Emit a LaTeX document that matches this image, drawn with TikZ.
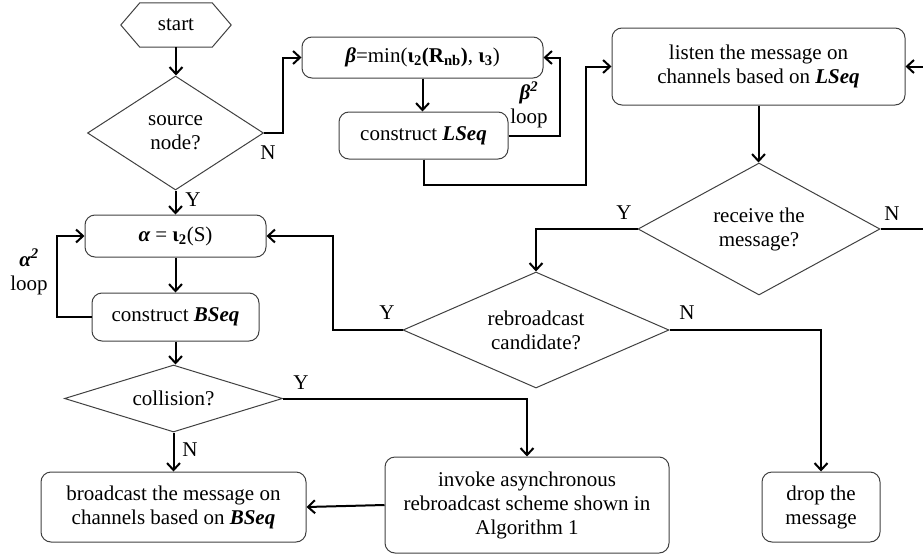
\documentclass[tikz,border=0pt]{standalone}
\usepackage{fontspec}
\setmainfont{Liberation Serif}
\usetikzlibrary{arrows.meta,shapes.geometric}
\newcommand\myfs{\fontsize{21pt}{24pt}\selectfont}
\newcommand\bi[1]{{\bfseries\itshape #1}}
\tikzset{
  shp/.style={draw=black!75, line width=1pt},
  box/.style={shp, rounded corners=10pt, align=center, inner sep=0pt, font=\myfs},
  dia/.style={shp, diamond, align=center, inner sep=0pt, font=\myfs},
  conn/.style={line width=2pt, -{Straight Barb[length=7pt,width=13pt]}},
  wire/.style={line width=2pt},
  lbl/.style={inner sep=0pt, font=\myfs}
}
\begin{document}
\begin{tikzpicture}[x=1pt,y=-1pt]
\useasboundingbox (0,0) rectangle (923,554);
% nodes
\node[minimum width=110pt, minimum height=44pt, inner sep=0pt, font=\myfs] (start) at (176,25) {start};
\draw[shp] (start.west) -- ([xshift=19pt]start.north west) -- ([xshift=-19pt]start.north east)
  -- (start.east) -- ([xshift=-19pt]start.south east) -- ([xshift=19pt]start.south west) -- cycle;
\node[dia, minimum width=176pt, minimum height=114pt, aspect=1.54] (src) at (175.5,133) {source\\node?};
\node[box, minimum width=241pt, minimum height=41pt] (beta) at (422.5,57.5)
  {\bi{β}=min({\bfseries ι\textsubscript{2}(R\textsubscript{nb})}, {\bfseries ι\textsubscript{3}})};
\node[box, minimum width=169pt, minimum height=47pt] (lseq) at (423.5,135.5) {construct \bi{LSeq}};
\node[box, minimum width=293pt, minimum height=77pt] (listen) at (758.5,66.5)
  {listen the message on\\channels based on \bi{LSeq}};
\node[dia, minimum width=242pt, minimum height=132pt, aspect=1.83] (recv) at (759,229) {receive the\\message?};
\node[box, minimum width=181pt, minimum height=42pt] (alpha) at (175.5,236)
  {\bi{α} = {\bfseries ι\textsubscript{2}}(S)};
\node[box, minimum width=167pt, minimum height=48pt] (bseq) at (175.5,317) {construct \bi{BSeq}};
\node[dia, minimum width=266pt, minimum height=116pt, aspect=2.29] (rebro) at (536,330) {rebroadcast\\candidate?};
\node[dia, minimum width=218pt, minimum height=67pt, aspect=3.25] (coll) at (173.5,398.5) {collision?};
\node[box, minimum width=265pt, minimum height=70pt] (bcast) at (173.5,507)
  {broadcast the message on\\channels based on \bi{BSeq}};
\node[box, minimum width=284pt, minimum height=96pt] (invoke) at (527,505)
  {invoke asynchronous\\rebroadcast scheme shown in\\Algorithm 1};
\node[box, minimum width=118pt, minimum height=70pt] (drop) at (821,507) {drop the\\message};
% labels
\node[lbl] (lsrcN) at (268,153) {N};
\node[lbl] (lsrcY) at (193,200) {Y};
\node[lbl, align=center] (lbeta) at (529,105) {\bi{β}\textsuperscript{\bi{2}}\\loop};
\node[lbl, align=center] (lalpha) at (29,272) {\bi{α}\textsuperscript{\bi{2}}\\loop};
\node[lbl] (lrecvY) at (624,213) {Y};
\node[lbl] (lrecvN) at (892,214) {N};
\node[lbl] (lrebY) at (387,313) {Y};
\node[lbl] (lrebN) at (687,313) {N};
\node[lbl] (lcolY) at (301,383) {Y};
\node[lbl] (lcolN) at (190,450) {N};
% coordinates
\coordinate (c1) at (586,185);
\coordinate (redge) at (927,150);
% connectors
\draw[conn] (start.south) -- (start.south |- src.north);
\draw[conn] (src.east) -- ++(19,0) |- (beta.west);
\draw[conn] (beta.south) -- (beta.south |- lseq.north);
\draw[conn] (lseq.east) -- ++(51,0) |- (beta.east);
\draw[conn] (lseq.south) |- (c1) |- (listen.west);
\draw[conn] (listen.south) -- (listen.south |- recv.north);
\draw[conn] (recv.east) -| (redge) |- (listen.east);
\draw[conn] (recv.west) -| (rebro.north);
\draw[conn] (rebro.west) -- ++(-70,0) |- (alpha.east);
\draw[conn] (rebro.east) -| (drop.north);
\draw[conn] (src.south) -- (src.south |- alpha.north);
\draw[conn] (alpha.south) -- (alpha.south |- bseq.north);
\draw[conn] (bseq.west) -- ++(-35,0) |- (alpha.west);
\draw[conn] (bseq.south) -- (bseq.south |- coll.north);
\draw[conn] (coll.east) -| (invoke.north);
\draw[conn] (coll.south) -- (coll.south |- bcast.north);
\draw[conn] (invoke.west) -- (bcast.east);
\end{tikzpicture}
\end{document}
